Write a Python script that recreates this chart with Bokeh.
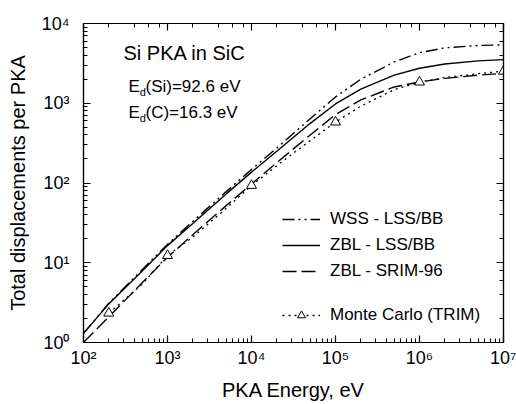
from bokeh.plotting import figure
from bokeh.models import (Range1d, LogAxis, LogTicker, CustomJSTickFormatter,
                          Label, Legend, LegendItem)
from bokeh.embed import file_html
from bokeh.resources import INLINE

# ---- data ----
energy = [1e2, 2e2, 5e2, 1e3, 2e3, 5e3, 1e4, 2e4, 5e4, 1e5, 2e5, 5e5, 1e6, 2e6, 5e6, 1e7]
wss_lss_bb = [1.3, 3.1, 8.2, 17, 33, 78, 148, 275, 640, 1200, 2000, 3300, 4300, 4950, 5300, 5400]
zbl_lss_bb = [1.3, 3.05, 7.9, 16.4, 31, 73, 137, 250, 560, 980, 1500, 2250, 2750, 3100, 3400, 3520]
zbl_srim96 = [1.0, 2.1, 5.6, 11.7, 22.5, 52, 97, 180, 400, 720, 1100, 1600, 1850, 2050, 2250, 2370]
trim_line_energy = [2e2, 5e2, 1e3, 2e3, 5e3, 1e4, 2e4, 5e4, 1e5, 2e5, 5e5, 1e6, 2e6, 5e6, 1e7]
trim_line_values = [2.33, 5.4, 12.3, 21, 48, 93, 165, 340, 580, 920, 1480, 1840, 2100, 2350, 2520]
trim_energy = [2e2, 1e3, 1e4, 1e5, 1e6, 1e7]
trim_values = [2.33, 12.3, 93, 580, 1840, 2520]

series_labels = ["WSS - LSS/BB", "ZBL - LSS/BB", "ZBL - SRIM-96", "Monte Carlo (TRIM)"]
x_label = "PKA Energy, eV"
y_label = "Total displacements per PKA"
title_text = "Si PKA in SiC"
ed_si = "(Si)=92.6 eV"
ed_c = "(C)=16.3 eV"

FONT = "Liberation Sans"

p = figure(width=516, height=404, x_axis_type="log", y_axis_type="log",
           x_range=Range1d(1e2, 1e7), y_range=Range1d(1, 1e4),
           output_backend="svg", toolbar_location=None,
           min_border_left=83, min_border_right=13, min_border_top=23, min_border_bottom=62)
p.grid.visible = False
p.outline_line_color = "black"
p.outline_line_width = 1.2
p.background_fill_color = "white"
p.border_fill_color = "white"

fmt = CustomJSTickFormatter(code="""
const sup = ['\u2070','\u00b9','\u00b2','\u00b3','\u2074','\u2075','\u2076','\u2077','\u2078','\u2079'];
const e = Math.round(Math.log10(tick));
return '10' + sup[e];
""")

for ax in list(p.xaxis) + list(p.yaxis):
    ax.formatter = fmt
    ax.major_tick_in = 7
    ax.major_tick_out = 0
    ax.minor_tick_in = 4
    ax.minor_tick_out = 0
    ax.axis_line_width = 1.2
    ax.major_tick_line_width = 1.2
    ax.major_label_text_font = FONT
    ax.major_label_text_font_size = "18px"
    ax.major_label_text_color = "black"
    ax.axis_label_text_font = FONT
    ax.axis_label_text_font_size = "20px"
    ax.axis_label_text_font_style = "normal"
    ax.axis_label_text_color = "black"

p.xaxis.axis_label = x_label
p.yaxis.axis_label = y_label
p.xaxis.major_label_standoff = 5
p.xaxis.axis_label_standoff = 8
p.yaxis.major_label_standoff = 14
p.yaxis.axis_label_standoff = 10

blank = CustomJSTickFormatter(code="return ' ';")
for loc in ("above", "right"):
    ax = LogAxis(ticker=LogTicker(), formatter=blank,
                 major_label_text_font_size="1px", major_label_text_alpha=0,
                 major_label_standoff=0, major_tick_in=7, major_tick_out=0,
                 minor_tick_in=4, minor_tick_out=0, axis_line_width=1.2,
                 major_tick_line_width=1.2)
    p.add_layout(ax, loc)

r_wss = p.line(energy, wss_lss_bb, line_color="black", line_width=1.4, line_dash="12 4 2 4 2 4")
r_zbl = p.line(energy, zbl_lss_bb, line_color="black", line_width=1.4)
r_srim = p.line(energy, zbl_srim96, line_color="black", line_width=1.4, line_dash="14 5")
r_trim_l = p.line(trim_line_energy, trim_line_values, line_color="black", line_width=1.3, line_dash="2 4")
r_trim_p = p.scatter(trim_energy, trim_values, marker="triangle", size=10,
                     fill_color="white", line_color="black", line_width=1)

common = dict(glyph_width=38, glyph_height=20, label_height=20, label_standoff=10,
              spacing=6, padding=0, margin=0, border_line_alpha=0,
              background_fill_alpha=0, label_text_font=FONT,
              label_text_font_size="17px", label_text_color="black")
leg1 = Legend(items=[LegendItem(label=series_labels[0], renderers=[r_wss]),
                     LegendItem(label=series_labels[1], renderers=[r_zbl]),
                     LegendItem(label=series_labels[2], renderers=[r_srim])],
              location=(199, 61), **common)
leg2 = Legend(items=[LegendItem(label=series_labels[3], renderers=[r_trim_l, r_trim_p])],
              location=(199, 17), **common)
p.add_layout(leg1)
p.add_layout(leg2)

def lab(x, y, text, size):
    p.add_layout(Label(x=x, y=y, x_units="screen", y_units="screen", text=text,
                       text_font=FONT, text_font_size=size, text_color="black",
                       text_baseline="middle", text_align="left"))

lab(40, 290, title_text, "20px")
lab(45, 256, "E", "17px")
lab(56.3, 251, "d", "11px")
lab(62, 256, ed_si, "17px")
lab(45, 230, "E", "17px")
lab(56.3, 225, "d", "11px")
lab(62, 230, ed_c, "17px")

open("out.html", "w").write(file_html(p, INLINE))
